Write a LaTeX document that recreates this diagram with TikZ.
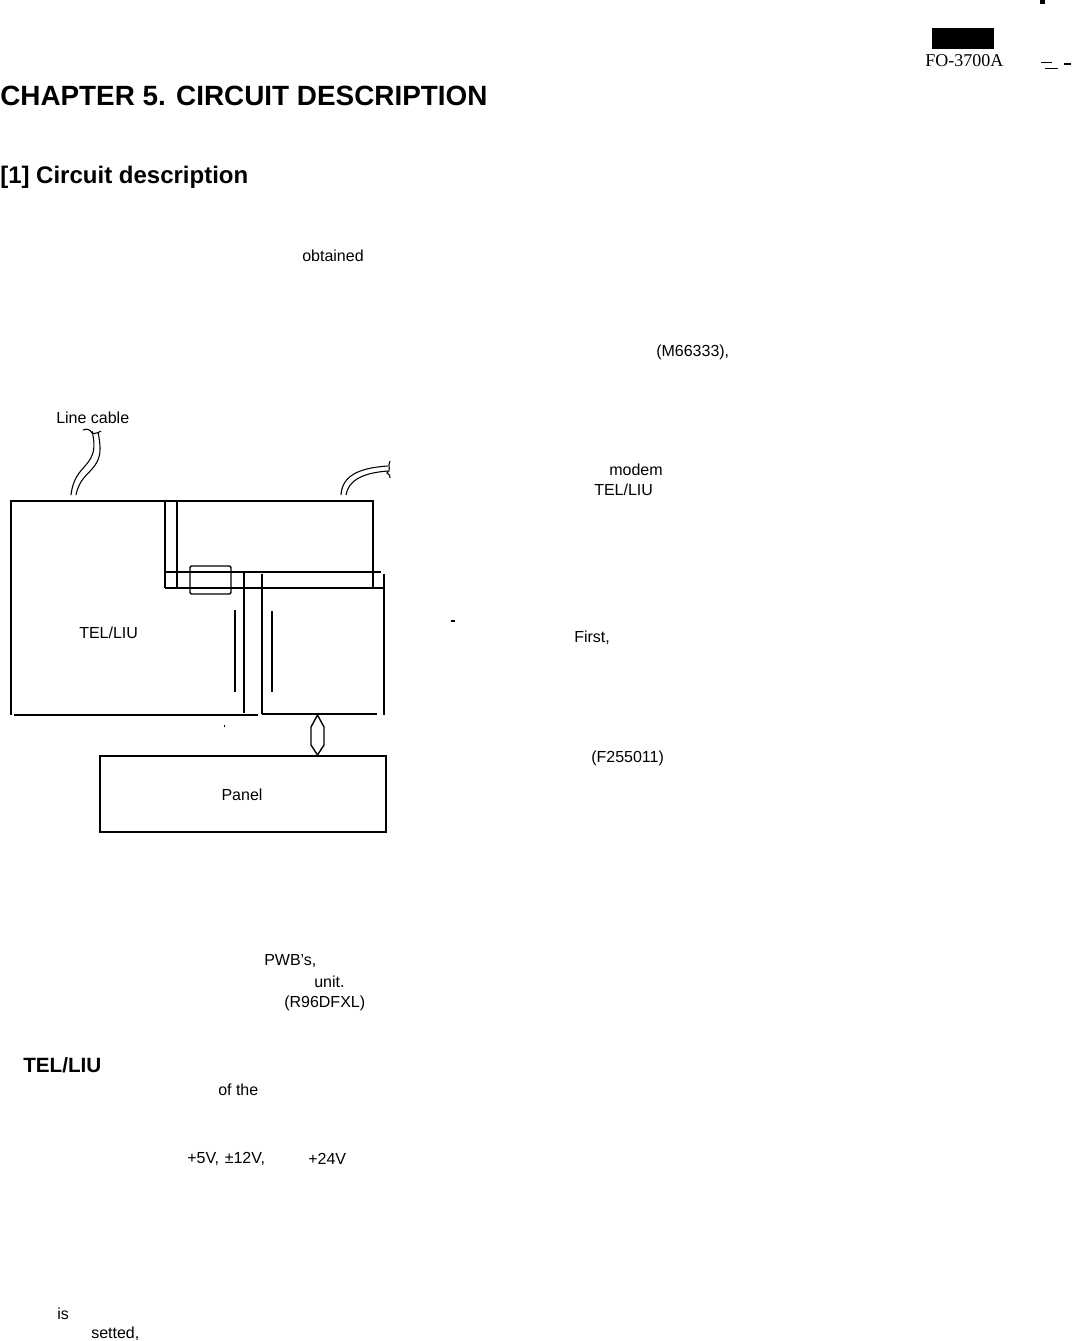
\documentclass[tikz,border=0pt]{standalone}
\usepackage{fontspec}
\setmainfont{Liberation Sans}
\newfontfamily\serifface{Liberation Serif}
\tikzset{
  px/.style={x=0.75pt,y=-0.75pt},
  body/.style={anchor=west,inner sep=0pt,font=\fontsize{12}{14}\selectfont},
  head/.style={anchor=west,inner sep=0pt,font=\fontsize{20.9}{24}\selectfont\bfseries},
  sub/.style={anchor=west,inner sep=0pt,font=\fontsize{18}{21}\selectfont\bfseries},
  thin line/.style={line width=0.8pt,black},
  mid line/.style={line width=1.05pt,black},
  thick line/.style={line width=1.5pt,black},
  cable/.style={line width=0.8pt,black},
}
\begin{document}
\begin{tikzpicture}[px]
\useasboundingbox (0,0) rectangle (1073,1341);
% header
\fill[black] (932,28) rectangle (994,49);
\node[anchor=west,inner sep=0pt,font=\fontsize{13.5}{15}\selectfont\serifface] (model) at (925,61) {FO-3700A};
\node[head] (chapter) at (0,96) {CHAPTER 5. CIRCUIT DESCRIPTION};
\node[sub] (section) at (0,177) {[1] Circuit description};
% scattered text
\node[body] (t1) at (302,256) {obtained};
\node[body] (t2) at (656,352) {(M66333),};
\node[body] (t3) at (56,418) {Line cable};
\node[body] (t4) at (609,470) {modem};
\node[body] (t5) at (594,490) {TEL/LIU};
\node[body] (t6) at (574,638) {First,};
\node[body] (t7) at (591,758) {(F255011)};
\node[body] (t8) at (264,961) {PWB's,};
\node[body] (t9) at (314,982) {unit.};
\node[body] (t10) at (284,1003) {(R96DFXL)};
\node[sub,font=\fontsize{15.5}{19}\selectfont\bfseries] (t11) at (23,1065) {TEL/LIU};
\node[body] (t12) at (218,1090) {of the};
\node[body] (t13) at (187,1159) {+5V,\hspace{0.35em}±12V,};
\node[body] (t14) at (308,1159) {+24V};
\node[body] (t15) at (57,1314) {is};
\node[body] (t16) at (91,1334) {setted,};
% block diagram
\node[body] (telliu) at (79,633) {TEL/LIU};
\node[draw,thick line,minimum width=214.5pt,minimum height=57pt,inner sep=0pt,anchor=north west] (panel) at (99,755) {};
\node[body,anchor=center] (panellabel) at (242,795) {Panel};
\draw[thick line,line cap=rect] (11,501) -- (373,501);
\draw[thick line] (11,501) -- (11,715);
\draw[mid line] (14,715) -- (258,715);
\draw[mid line] (373,501) -- (373,588);
\draw[thin line] (165,501) -- (165,588);
\draw[mid line] (177,501) -- (177,588);
\draw[mid line] (165,572) -- (381,572);
\draw[thick line] (165,588) -- (384,588);
\draw[mid line] (384,574) -- (384,715);
\draw[mid line] (244,572) -- (244,713);
\draw[mid line] (262,574) -- (262,714);
\draw[mid line] (262,714) -- (377,714);
\draw[mid line] (235,610) -- (235,692);
\draw[mid line] (272,611) -- (272,692);
\draw[mid line,rounded corners=1pt] (190,566) rectangle (231,594);
% hexagon connector
\coordinate (hextop) at (317.5,715);
\coordinate (hexbot) at (317.5,755);
\draw[mid line] (hextop) -- (311,727) -- (311,745) -- (hexbot) -- (324,745) -- (324,727) -- cycle;
% line cable
\draw[cable] (71,495) .. controls (73,478) and (80,472) .. (85,466) .. controls (94,456) and (96,448) .. (92,431);
\draw[cable] (76,495) .. controls (79,480) and (87,475) .. (92,469) .. controls (102,458) and (101,448) .. (98,432);
\draw[cable] (83,430) .. controls (88,428) and (90,430) .. (92,433) .. controls (94,434) and (98,433) .. (101,431);
% second cable
\draw[cable] (341,495) .. controls (342,478) and (355,468) .. (388,466);
\draw[cable] (346,495) .. controls (348,482) and (360,473) .. (388,471);
\draw[cable] (390,461) .. controls (387,466) and (392,470) .. (387,473) .. controls (390,474) and (390,476) .. (390,478);
% specks
\fill (1040,0) rectangle (1045,4);
\fill (1041,62) rectangle (1052,63);
\fill (1045,68.5) rectangle (1058,69.5);
\fill (1064,63) rectangle (1071,65);
\fill (451,620) rectangle (455,621.5);
\fill (224,725) rectangle (225,727);
\end{tikzpicture}
\end{document}
